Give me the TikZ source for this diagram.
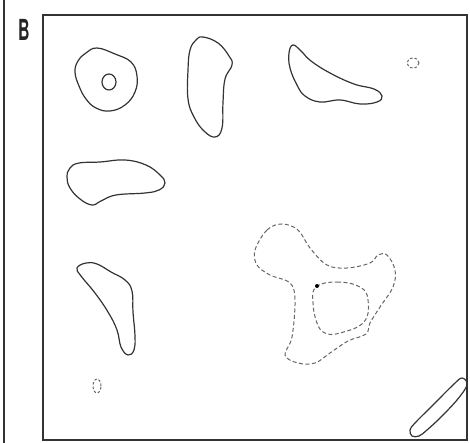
\documentclass[tikz,border=0pt]{standalone}
\usepackage{fontspec}
\newfontfamily\labelfont{TeX Gyre Heros}
\usetikzlibrary{calc}
\begin{document}
\begin{tikzpicture}[x=1pt,y=-1pt,
  solidblob/.style={draw=black!80, line width=1.2pt, line join=round},
  dashblob/.style={draw=black!60, line width=1pt, dash pattern=on 4pt off 2.5pt},
  frameline/.style={draw=black!80, line width=1.4pt}]
\useasboundingbox (0,0) rectangle (470,443);
% left rule and frame
\draw[frameline] (4,0) -- (4,443);
\draw[frameline] (43,15) rectangle (467,440);
\node[font=\labelfont\bfseries\fontsize{29}{29}\selectfont, inner sep=0pt, text=black!85] (label) at (24,30) {\scalebox{0.55}[1]{B}};
% ring
\draw[solidblob] plot[smooth cycle, tension=0.7] coordinates
 {(97,48) (115,54) (131,62) (137,76) (135,92) (125,105) (110,111) (96,108) (86,99) (79,86) (75,72) (78,61) (86,53)};
\draw[solidblob] (109,82) ellipse (7pt and 8pt);
% tall blob
\draw[solidblob] plot[smooth cycle, tension=0.7] coordinates
 {(203,37) (218,43) (229,56) (232,65) (225,79) (223,102) (222,128) (215,137) (204,131) (194,117) (188,99) (188,70) (190,50) (196,40)};
% top right blob
\draw[solidblob] plot[smooth cycle, tension=0.7] coordinates
 {(293,45) (301,51) (311,61) (330,73) (354,84) (374,89) (382,96) (377,102) (360,104) (340,100) (320,102) (305,96) (297,85) (290,68) (289,53)};
% small dashed ring top right
\draw[dashblob, dash pattern=on 2.5pt off 2pt] (413,63) ellipse (6pt and 5pt);
% horizontal blob
\draw[solidblob] plot[smooth cycle, tension=0.7] coordinates
 {(79,163) (100,162) (125,160) (146,165) (160,175) (165,183) (159,190) (145,193) (116,195) (101,201) (92,205) (80,199) (70,188) (67,177) (70,168)};
% lower left blob
\draw[solidblob] plot[smooth cycle, tension=0.7] coordinates
 {(86,263) (97,264) (111,272) (125,280) (132,291) (133,312) (135,336) (134,350) (128,355) (121,347) (117,330) (108,312) (95,293) (81,276) (77,268)};
% small dashed ring bottom left
\draw[dashblob, dash pattern=on 2.5pt off 2pt] (97,386) ellipse (4pt and 7pt);
% big dashed three-lobed outline
\draw[dashblob] plot[smooth cycle, tension=0.6] coordinates
 {(255,250) (267,230) (282,224) (298,230) (310,248) (327,265) (347,268) (370,263) (378,255) (387,255) (395,270) (393,287) (380,307) (370,323) (366,334) (348,341) (330,353) (315,363) (298,363) (285,355) (292,337) (295,300) (290,283) (270,275) (257,265)};
% inner dashed loop
\draw[dashblob] plot[smooth cycle, tension=0.7] coordinates
 {(316,287) (337,282) (360,287) (368,300) (364,322) (340,333) (325,333) (317,323) (313,303)};
\fill[black] (317,286) circle (2pt);
% bottom right blob
\draw[solidblob] plot[smooth cycle, tension=0.6] coordinates
 {(462,378) (467,385) (457,400) (440,418) (427,430) (419,436) (412,436) (410,430) (415,423) (433,405) (453,385)};
\end{tikzpicture}
\end{document}
